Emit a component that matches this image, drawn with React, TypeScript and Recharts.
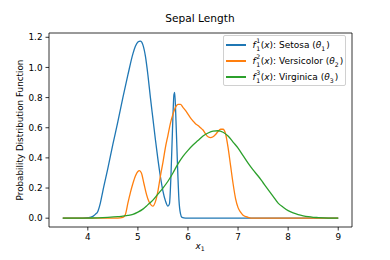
import React from 'react';
import { LineChart, Line, XAxis, YAxis, ReferenceLine } from 'recharts';

// Setosa density (blue)
const setosaX = [3.5, 3.9, 4.0, 4.1, 4.15, 4.2, 4.25, 4.3, 4.4, 4.5, 4.6, 4.7, 4.8, 4.9, 4.95, 5.0, 5.05, 5.1, 5.15, 5.2, 5.25, 5.3, 5.35, 5.4, 5.45, 5.5, 5.55, 5.6, 5.63, 5.66, 5.69, 5.72, 5.735, 5.76, 5.79, 5.82, 5.85, 5.88, 5.95, 7.0, 9.0];
const setosaY = [0, 0, 0.003, 0.012, 0.025, 0.045, 0.1, 0.18, 0.33, 0.49, 0.64, 0.8, 0.95, 1.09, 1.14, 1.168, 1.175, 1.15, 1.075, 0.95, 0.8, 0.66, 0.52, 0.39, 0.275, 0.18, 0.115, 0.08, 0.095, 0.28, 0.58, 0.82, 0.835, 0.65, 0.36, 0.12, 0.03, 0.005, 0, 0, 0];

// Versicolor density (orange)
const versicolorX = [3.5, 4.6, 4.7, 4.75, 4.8, 4.85, 4.9, 4.95, 5.0, 5.03, 5.07, 5.12, 5.17, 5.22, 5.27, 5.3, 5.35, 5.4, 5.45, 5.5, 5.55, 5.6, 5.65, 5.7, 5.75, 5.8, 5.85, 5.9, 5.95, 6.0, 6.05, 6.1, 6.15, 6.2, 6.25, 6.3, 6.35, 6.4, 6.45, 6.5, 6.55, 6.6, 6.65, 6.7, 6.75, 6.8, 6.85, 6.9, 6.95, 7.0, 7.05, 7.1, 7.2, 7.3, 8.0, 9.0];
const versicolorY = [0, 0, 0.005, 0.025, 0.1, 0.17, 0.23, 0.28, 0.31, 0.315, 0.3, 0.23, 0.16, 0.11, 0.085, 0.08, 0.11, 0.18, 0.28, 0.37, 0.47, 0.55, 0.63, 0.69, 0.735, 0.755, 0.755, 0.735, 0.715, 0.69, 0.665, 0.645, 0.627, 0.615, 0.6, 0.585, 0.56, 0.54, 0.535, 0.54, 0.555, 0.575, 0.59, 0.59, 0.56, 0.47, 0.35, 0.23, 0.13, 0.07, 0.04, 0.02, 0.006, 0, 0, 0];

// Virginica density (green)
const virginicaX = [3.5, 3.8, 4.0, 4.2, 4.4, 4.6, 4.7, 4.8, 4.9, 5.0, 5.1, 5.2, 5.3, 5.4, 5.5, 5.6, 5.7, 5.8, 5.9, 6.0, 6.1, 6.2, 6.3, 6.4, 6.5, 6.6, 6.7, 6.8, 6.9, 7.0, 7.1, 7.2, 7.3, 7.4, 7.5, 7.6, 7.7, 7.8, 7.9, 8.0, 8.1, 8.2, 8.3, 8.4, 8.5, 8.6, 8.8, 9.0];
const virginicaY = [0, 0, 0.001, 0.002, 0.005, 0.01, 0.014, 0.018, 0.025, 0.04, 0.06, 0.09, 0.12, 0.16, 0.2, 0.245, 0.3, 0.36, 0.41, 0.45, 0.485, 0.515, 0.545, 0.565, 0.578, 0.58, 0.57, 0.545, 0.505, 0.465, 0.415, 0.365, 0.32, 0.28, 0.235, 0.19, 0.145, 0.1, 0.073, 0.05, 0.035, 0.024, 0.016, 0.01, 0.006, 0.004, 0.001, 0];

const xTicks = [4, 5, 6, 7, 8, 9];
const yTicks = [0, 0.2, 0.4, 0.6, 0.8, 1.0, 1.2];
const xDomain = [3.225, 9.275];
const yDomain = [-0.0585, 1.2285];

const toPoints = (xs: number[], ys: number[]) => xs.map((x, i) => ({ x, y: ys[i] }));

const FONT = 'DejaVu Sans';

const series = [
  { name: 'Setosa', idx: 1, color: '#1f77b4', data: toPoints(setosaX, setosaY) },
  { name: 'Versicolor', idx: 2, color: '#ff7f0e', data: toPoints(versicolorX, versicolorY) },
  { name: 'Virginica', idx: 3, color: '#2ca02c', data: toPoints(virginicaX, virginicaY) },
];

// f with stacked super/subscript, matplotlib mathtext style
const LegendLabel = ({ name, idx }: { name: string; idx: number }) => (
  <span style={{ whiteSpace: 'nowrap', display: 'inline-flex', alignItems: 'center' }}>
    <i>f</i>
    <span style={{ position: 'relative', display: 'inline-block', width: 5, height: 14, fontSize: 6.2, lineHeight: '6px' }}>
      <span style={{ position: 'absolute', left: 0.5, top: 0 }}>{idx}</span>
      <span style={{ position: 'absolute', left: 0.5, top: 7.5 }}>1</span>
    </span>
    <span>(<i>x</i>): {name} (<i>θ</i></span>
    <span style={{ position: 'relative', display: 'inline-block', width: 5, height: 14, fontSize: 6.2, lineHeight: '6px' }}>
      <span style={{ position: 'absolute', left: 0, top: 7.5 }}>{idx}</span>
    </span>
    <span>)</span>
  </span>
);

export default function App() {
  return (
    <div style={{ position: 'absolute', left: 0, top: 0, width: 390, height: 260, background: '#fff', fontFamily: FONT }}>
      <LineChart width={390} height={260} margin={{ top: 33, right: 38, bottom: 0, left: 0 }}>
        <XAxis
          dataKey="x"
          type="number"
          domain={xDomain}
          ticks={xTicks}
          allowDataOverflow
          height={33}
          stroke="#000"
          strokeWidth={0.8}
          tickSize={3.5}
          tickMargin={3}
          tick={{ fontSize: 8.8, fill: '#000', fontFamily: FONT }}
        />
        <YAxis
          dataKey="y"
          type="number"
          domain={yDomain}
          ticks={yTicks}
          allowDataOverflow
          width={49}
          stroke="#000"
          strokeWidth={0.8}
          tickSize={3.5}
          tickMargin={3}
          tickFormatter={(v: number) => v.toFixed(1)}
          tick={{ fontSize: 8.8, fill: '#000', fontFamily: FONT }}
        />
        <ReferenceLine y={yDomain[1]} stroke="#000" strokeWidth={0.8} />
        <ReferenceLine x={xDomain[1]} stroke="#000" strokeWidth={0.8} />
        {series.map(s => (
          <Line
            key={s.name}
            data={s.data}
            dataKey="y"
            type="monotone"
            stroke={s.color}
            strokeWidth={1.3}
            dot={false}
            isAnimationActive={false}
          />
        ))}
      </LineChart>

      {/* title */}
      <div style={{ position: 'absolute', left: 0, width: 400, top: 12, textAlign: 'center', fontSize: 10.6, color: '#000' }}>
        Sepal Length
      </div>

      {/* y axis label */}
      <div style={{
        position: 'absolute', left: 19.5, top: 130, width: 200, marginLeft: -100, marginTop: -6,
        textAlign: 'center', fontSize: 8.8, lineHeight: '12px', transform: 'rotate(-90deg)', color: '#000', whiteSpace: 'nowrap'
      }}>
        Probability Distribution Function
      </div>

      {/* x axis label */}
      <div style={{ position: 'absolute', left: 0, width: 400, top: 241, textAlign: 'center', fontSize: 8.8, color: '#000' }}>
        <i>x</i><span style={{ fontSize: '0.7em', verticalAlign: '-0.3em' }}>1</span>
      </div>

      {/* legend */}
      <div style={{
        position: 'absolute', left: 223, top: 35, width: 123, height: 51, boxSizing: 'border-box',
        border: '0.8px solid #d0d0d0', borderRadius: 2, background: 'rgba(255,255,255,0.8)', fontSize: 9, color: '#000'
      }}>
        {series.map((s, i) => (
          <div key={s.name} style={{ position: 'absolute', left: 2, top: [2, 18, 34][i], height: 14, display: 'flex', alignItems: 'center' }}>
            <span style={{ display: 'inline-block', width: 20, height: 1.5, background: s.color, marginRight: 6.5 }} />
            <LegendLabel name={s.name} idx={s.idx} />
          </div>
        ))}
      </div>
    </div>
  );
}
